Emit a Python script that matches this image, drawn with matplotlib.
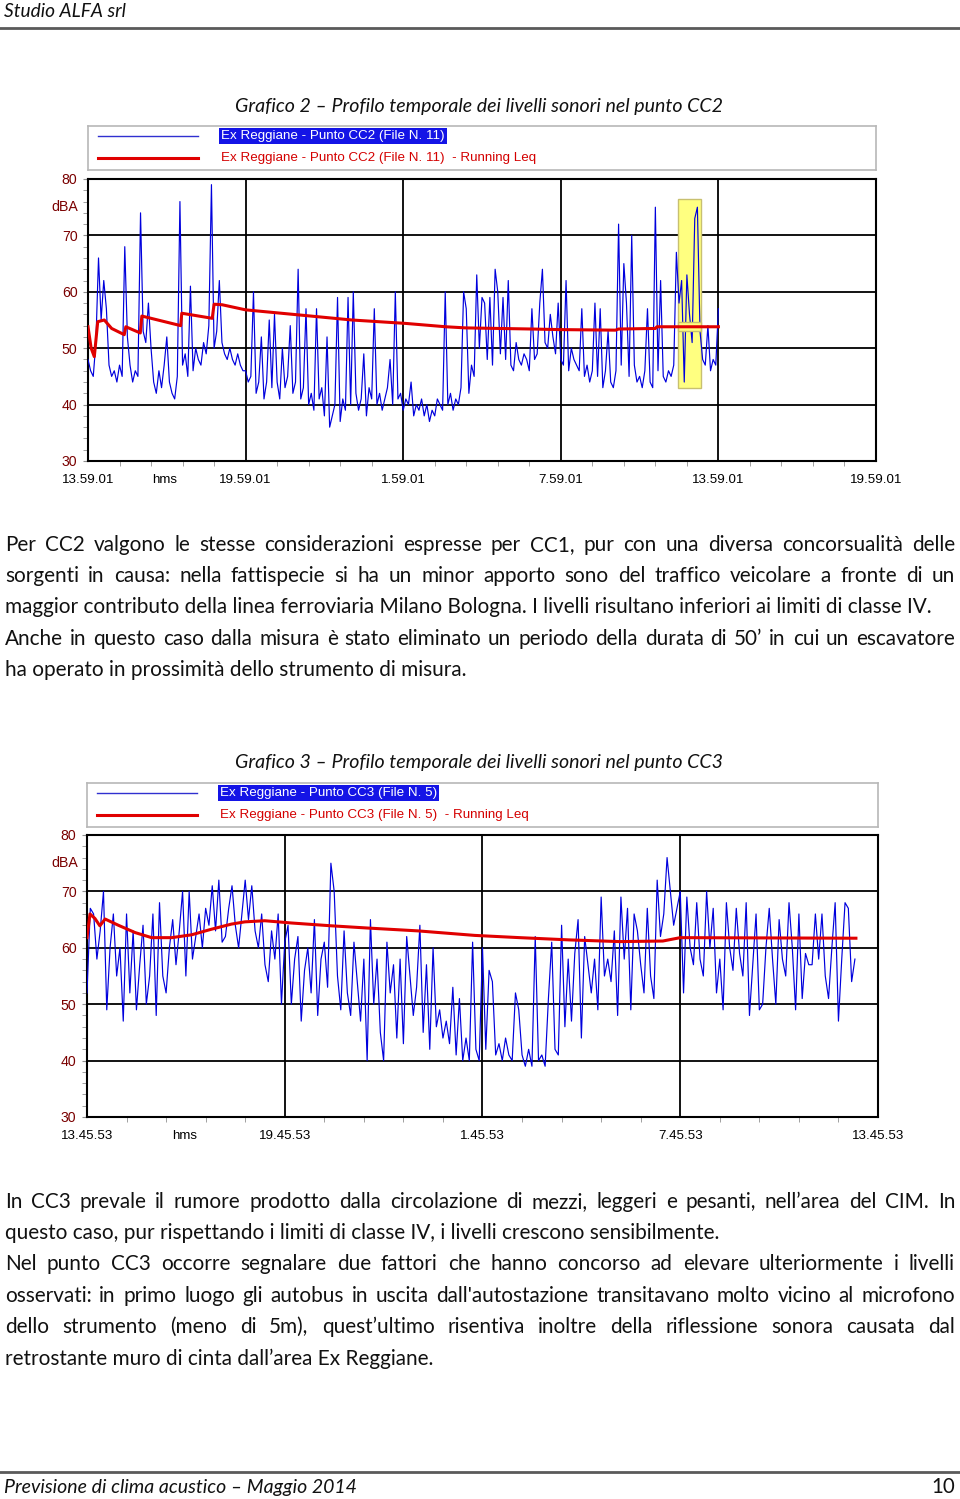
import numpy as np
import matplotlib
matplotlib.use('Agg')
import matplotlib.pyplot as plt
from matplotlib.patches import Rectangle
from matplotlib.lines import Line2D

# Values: one Leq sample every 0.1 h from start, dBA
step_h = 0.1

cc2_leq = [
    48, 46, 45, 51, 66, 55, 62, 57, 47, 45,
    46, 44, 47, 45, 68, 52, 47, 44, 46, 45,
    74, 53, 51, 58, 50, 44, 42, 46, 43, 47,
    52, 44, 42, 41, 45, 76, 47, 49, 45, 61,
    46, 50, 48, 47, 51, 49, 54, 79, 50, 53,
    62, 51, 49, 48, 50, 48, 47, 49, 47, 46,
    46, 44, 45, 60, 42, 44, 52, 41, 44, 55,
    43, 56, 44, 41, 50, 43, 45, 54, 42, 44,
    64, 41, 43, 57, 40, 42, 39, 57, 41, 43,
    38, 52, 36, 38, 40, 59, 37, 41, 39, 59,
    40, 60, 42, 39, 41, 49, 38, 43, 41, 57,
    40, 42, 39, 41, 43, 48, 40, 60, 41, 42,
    39, 41, 40, 44, 38, 40, 39, 41, 38, 40,
    37, 39, 38, 41, 40, 39, 60, 40, 42, 39,
    41, 40, 43, 60, 57, 42, 47, 45, 63, 50,
    59, 58, 48, 59, 47, 64, 60, 49, 59, 48,
    62, 47, 46, 51, 48, 47, 49, 48, 46, 57,
    48, 49, 58, 64, 51, 50, 56, 52, 49, 58,
    48, 47, 62, 46, 50, 48, 47, 46, 57, 45,
    47, 44, 46, 58, 45, 57, 43, 46, 53, 44,
    43, 46, 72, 47, 65, 58, 45, 70, 47, 44,
    45, 43, 46, 57, 44, 43, 75, 46, 62, 45,
    44, 46, 45, 47, 67, 58, 62, 44, 63, 56,
    51, 73, 75, 53, 48, 47, 54, 46, 48, 47,
    57,
]
cc2_run_h = [0, 0.12, 0.24, 0.37, 0.62, 0.9, 1.38, 1.44, 1.99, 2.05, 3.53, 3.57, 4.73,
             4.8, 5.11, 6.0, 8.03, 10.05, 12.08, 13.62, 14.38, 16.91, 17.93, 20.08,
             20.2, 21.6, 21.66, 24.0]
cc2_run_db = [53.8, 50.0, 48.5, 54.7, 55.0, 53.5, 52.4, 53.8, 52.7, 55.7, 54.0, 56.2, 55.3,
              57.8, 57.7, 56.8, 55.9, 55.0, 54.4, 53.8, 53.6, 53.4, 53.3, 53.2,
              53.4, 53.5, 53.8, 53.8]
# excluded period (excavator) marked in yellow: start h, end h, low dB, high dB
cc2_excluded = [22.46, 23.33, 42.9, 76.4]

cc3_leq = [
    52, 67, 66, 58, 63, 70, 49, 60, 66, 55,
    60, 47, 66, 52, 63, 49, 57, 64, 50, 55,
    66, 48, 68, 55, 52, 60, 65, 57, 63, 70,
    55, 70, 58, 62, 66, 60, 67, 64, 71, 63,
    72, 61, 62, 67, 71, 64, 60, 66, 72, 65,
    71, 63, 60, 66, 57, 54, 63, 58, 66, 50,
    61, 64, 50, 58, 62, 47, 56, 60, 52, 65,
    48, 58, 61, 53, 75, 70, 55, 49, 63, 52,
    48, 61, 54, 47, 58, 40, 65, 50, 58, 45,
    40, 61, 52, 57, 44, 58, 43, 62, 55, 48,
    53, 64, 45, 57, 42, 60, 46, 49, 44, 47,
    43, 53, 41, 51, 40, 44, 40, 61, 42, 40,
    60, 42, 56, 54, 41, 43, 40, 44, 41, 40,
    52, 49, 41, 39, 42, 39, 62, 40, 41, 39,
    51, 61, 42, 41, 64, 46, 58, 47, 59, 65,
    44, 62, 57, 52, 58, 49, 69, 55, 58, 54,
    63, 48, 69, 58, 67, 49, 66, 63, 57, 52,
    67, 55, 51, 72, 62, 66, 76, 70, 64, 67,
    70, 52, 69, 60, 57, 68, 58, 55, 70, 60,
    67, 52, 58, 49, 68, 60, 56, 67, 59, 55,
    68, 48, 57, 66, 49, 50, 60, 67, 58, 50,
    65, 58, 55, 68, 60, 49, 66, 51, 59, 57,
    57, 66, 58, 66, 55, 51, 60, 68, 47, 58,
    68, 67, 54, 58,
]
cc3_run_h = [0, 0.09, 0.24, 0.39, 0.55, 0.95, 1.46, 1.96, 2.57, 3.17, 3.78, 4.38, 4.79,
             5.39, 6.2, 7.41, 8.53, 10.04, 11.76, 13.13, 14.64, 16.16, 17.47, 18.0, 23.33]
cc3_run_db = [61.8, 66.0, 65.2, 63.9, 65.1, 64.0, 62.7, 61.8, 61.8, 62.3, 63.3, 64.2, 64.6,
              64.8, 64.4, 63.9, 63.5, 63.0, 62.2, 61.8, 61.4, 61.1, 61.2, 61.8, 61.7]

cc2_xlabels = ['13.59.01', 'hms', '19.59.01', '1.59.01', '7.59.01', '13.59.01', '19.59.01']
cc2_xpos = [0, 2.93, 6, 12, 18, 24, 30]
cc3_xlabels = ['13.45.53', 'hms', '19.45.53', '1.45.53', '7.45.53', '13.45.53']
cc3_xpos = [0, 2.97, 6, 12, 18, 24]

cc2_legend = ['Ex Reggiane - Punto CC2 (File N. 11)',
              'Ex Reggiane - Punto CC2 (File N. 11)  - Running Leq']
cc3_legend = ['Ex Reggiane - Punto CC3 (File N. 5)',
              'Ex Reggiane - Punto CC3 (File N. 5)  - Running Leq']

title2 = 'Grafico 2 – Profilo temporale dei livelli sonori nel punto CC2'
title3 = 'Grafico 3 – Profilo temporale dei livelli sonori nel punto CC3'

par1 = [
    ('Per CC2 valgono le stesse considerazioni espresse per CC1, pur con una diversa concorsualità delle', True),
    ('sorgenti in causa: nella fattispecie si ha un minor apporto sono del traffico veicolare a fronte di un', True),
    ('maggior contributo della linea ferroviaria Milano Bologna. I livelli risultano inferiori ai limiti di classe IV.', False),
    ('Anche in questo caso dalla misura è stato eliminato un periodo della durata di 50’ in cui un escavatore', True),
    ('ha operato in prossimità dello strumento di misura.', False),
]
par2 = [
    ('In CC3 prevale il rumore prodotto dalla circolazione di mezzi, leggeri e pesanti, nell’area del CIM. In', True),
    ('questo caso, pur rispettando i limiti di classe IV, i livelli crescono sensibilmente.', False),
    ('Nel punto CC3 occorre segnalare due fattori che hanno concorso ad elevare ulteriormente i livelli', True),
    ('osservati: in primo luogo gli autobus in uscita dall\'autostazione transitavano molto vicino al microfono', True),
    ('dello strumento (meno di 5m), quest’ultimo risentiva inoltre della riflessione sonora causata dal', True),
    ('retrostante muro di cinta dall’area Ex Reggiane.', False),
]

BODY = ['Lato', 'DejaVu Sans']
CHART = ['Liberation Sans', 'DejaVu Sans']
CSIZE = 9.6

W, H = 960, 1499
fig = plt.figure(figsize=(W / 100, H / 100), dpi=100)
fig.patch.set_facecolor('white')
renderer = fig.canvas.get_renderer()


def text_width(s, size, **kw):
    t = fig.text(0, 0, s, fontsize=size, **kw)
    w = t.get_window_extent(renderer).width
    t.remove()
    return w


def fit_size(s, target, **kw):
    return 20 * target / text_width(s, 20, **kw)


def put(x, y, s, size, **kw):
    # y is the visual middle of a text row in pixels from the top
    fig.text(x / W, 1 - (y + 0.32 * size * 100 / 72) / H, s, fontsize=size, va='baseline', **kw)


def paragraph(lines, y0, dy, size):
    for i, (line, just) in enumerate(lines):
        y = y0 + i * dy
        if not just:
            put(5, y, line, size, family=BODY, color='#111111')
            continue
        words = line.split(' ')
        widths = [text_width(w, size, family=BODY) for w in words]
        gap = (950 - sum(widths)) / (len(words) - 1)
        x = 5
        for w, wd in zip(words, widths):
            put(x, y, w, size, family=BODY, color='#111111')
            x += wd + gap


def hline(y, x0=0, x1=W):
    fig.add_artist(Line2D([x0 / W, x1 / W], [1 - y / H] * 2, transform=fig.transFigure,
                          color='#5a5a5a', lw=2))


def legend_box(x0, y0, x1, y1, labels):
    lax = fig.add_axes([x0 / W, 1 - y1 / H, (x1 - x0) / W, (y1 - y0) / H])
    lax.set_xlim(x0, x1)
    lax.set_ylim(y1, y0)
    lax.set_xticks([])
    lax.set_yticks([])
    for s in lax.spines.values():
        s.set_color('#b8b8b8')
        s.set_linewidth(1.2)
    ya, yb = y0 + 10, y0 + 32
    lax.plot([x0 + 10, x0 + 110], [ya, ya], color='#3030d0', lw=1)
    lax.plot([x0 + 10, x0 + 110], [yb, yb], color='#e00000', lw=2.2)
    lax.text(x0 + 133, ya, labels[0], color='white', fontsize=CSIZE, family=CHART, va='center',
             bbox=dict(boxstyle='square,pad=0.15', fc='#1414e6', ec='none'))
    lax.text(x0 + 133, yb, labels[1], color='#d40000', fontsize=CSIZE, family=CHART, va='center')


def chart(x0, y0, x1, y1, xmax, leq, run_h, run_db, xpos, xlabels, excluded=None):
    ax = fig.add_axes([x0 / W, 1 - y1 / H, (x1 - x0) / W, (y1 - y0) / H])
    hours = np.arange(len(leq)) * step_h
    for v in range(40, 80, 10):
        ax.axhline(v, color='black', lw=1.3, zorder=1)
    for h in range(6, xmax, 6):
        ax.axvline(h, color='black', lw=1.3, zorder=1)
    if excluded:
        ha, hb, lo, hi = excluded
        ax.add_patch(Rectangle((ha, lo), hb - ha, hi - lo, fc='#ffff80', ec='#c8c070', lw=1, zorder=2))
    ax.plot(hours, leq, color='#0000dd', lw=0.85, zorder=3)
    if excluded:
        ax.add_patch(Rectangle((ha, 53.0), hb - ha, 1.6, fc='#ffff80', ec='#c8c070', lw=1, zorder=3.5))
    ax.plot(run_h, run_db, color='#e00000', lw=2.2, zorder=4)
    ax.set_xlim(0, xmax)
    ax.set_ylim(30, 80)
    ax.set_yticks(range(30, 81, 10))
    ax.set_yticks(np.arange(30, 81, 2), minor=True)
    ax.tick_params(axis='y', which='both', length=3.6, color='#909090', labelcolor='#7a0000',
                   labelsize=CSIZE + 0.6, pad=4)
    ax.set_xticks(xpos, xlabels)
    ax.set_xticks(np.arange(0, xmax + 0.01, 1.2), minor=True)
    ax.tick_params(axis='x', which='major', length=0, pad=9.5, labelsize=CSIZE)
    ax.tick_params(axis='x', which='minor', length=3.6, color='#909090')
    for lab in ax.get_xticklabels() + ax.get_yticklabels():
        lab.set_family(CHART)
    for s in ax.spines.values():
        s.set_linewidth(1.5)
    fig.text(78 / W, 1 - (y0 + 28) / H, 'dBA', ha='right', va='center', fontsize=CSIZE + 0.6,
             family=CHART, color='#7a0000')
    return ax


# header and footer
hsize = fit_size('Studio ALFA srl', 122, family=BODY, style='italic')
put(4, 11, 'Studio ALFA srl', hsize, family=BODY, style='italic', color='#111111')
hline(28)
hline(1472)
fsize = fit_size('Previsione di clima acustico – Maggio 2014', 353, family=BODY, style='italic')
put(4, 1487, 'Previsione di clima acustico – Maggio 2014', fsize, family=BODY, style='italic',
    color='#111111')
put(955, 1486, '10', fsize * 1.05, family=BODY, ha='right', color='#111111')

# chart CC2
tsize = fit_size(title2, 487, family=BODY, style='italic')
put(235, 106, title2, tsize, family=BODY, style='italic', color='#111111')
legend_box(88, 126, 876, 170, cc2_legend)
chart(88, 179, 876, 461, 30, cc2_leq, cc2_run_h, cc2_run_db, cc2_xpos, cc2_xlabels,
      excluded=cc2_excluded)

# body text
bsize = fit_size(par1[2][0], 931, family=BODY)
paragraph(par1, 544, 31.3, bsize)

# chart CC3
put(235, 762, title3, tsize, family=BODY, style='italic', color='#111111')
legend_box(87, 783, 878, 827, cc3_legend)
chart(87, 835, 878, 1117, 24, cc3_leq, cc3_run_h, cc3_run_db, cc3_xpos, cc3_xlabels)

paragraph(par2, 1201, 31.4, bsize)

fig.savefig('out.png', dpi=100, facecolor='white')
